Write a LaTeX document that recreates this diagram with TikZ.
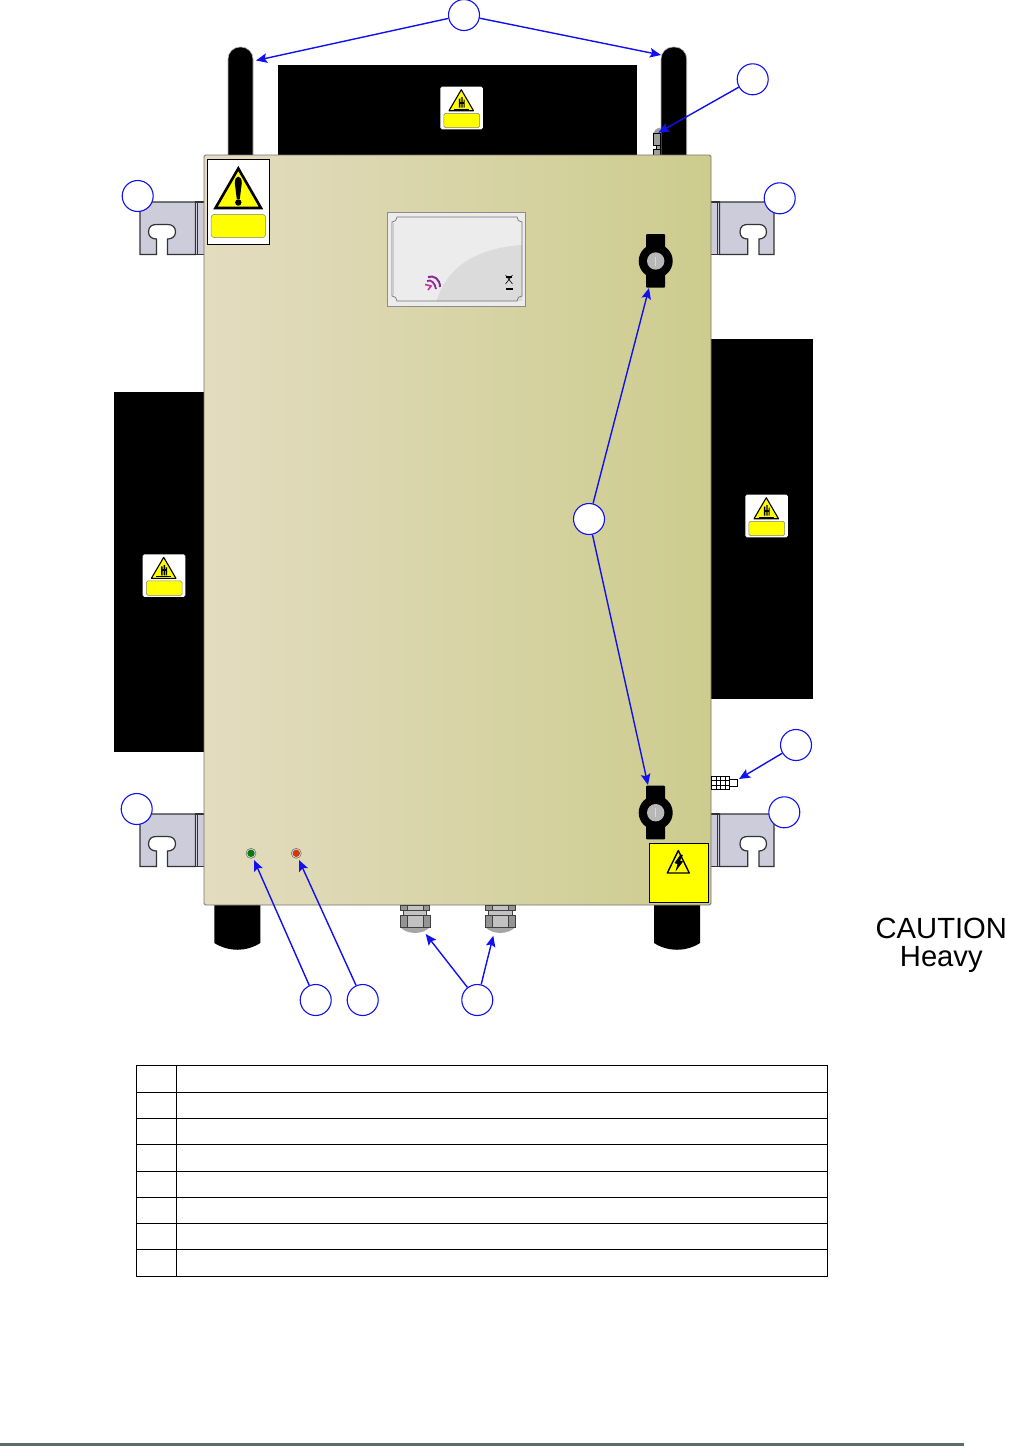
\documentclass[tikz,border=0pt]{standalone}
\usepackage{fontspec}
\setmainfont{Liberation Sans}
\usetikzlibrary{arrows.meta}
\definecolor{callblue}{HTML}{1010F0}
\definecolor{clampfill}{HTML}{CDCCDA}
\definecolor{signyellow}{HTML}{FFFF00}
\definecolor{panelL}{HTML}{E3DCC0}
\definecolor{panelR}{HTML}{CDCC8E}
\definecolor{footrule}{HTML}{5A6B6B}
\definecolor{ledred}{HTML}{D03A08}
\definecolor{ledgreen}{HTML}{0A7A0A}
\definecolor{logopurple}{HTML}{8A2C96}
\definecolor{logopink}{HTML}{C8329C}
\tikzset{
  callout/.style={circle,draw=callblue,fill=white,line width=1.1pt,minimum size=31pt,inner sep=0pt},
  leader/.style={draw=callblue,line width=1.4pt,-{Stealth[length=11pt,width=9.5pt,inset=2pt]}},
  blackpart/.style={fill=black,draw=black!30,line width=0.6pt},
  clampline/.style={draw=black!80,line width=1.2pt,fill=clampfill},
  tablerule/.style={draw=black,line width=0.9pt},
  gl/.style={fill=black!24,draw=black!75,line width=0.6pt},
  gd/.style={fill=black!42,draw=black!75,line width=0.6pt},
  fitpart/.style={fill=black!38,draw=black,line width=0.6pt},
  pics/clamp/.style={code={
    \path[clampline] (0,0)--(-9,0)--(-9,52.5)--(-37,52.5)--(-37,37)
      .. controls (-33,37) and (-29,35) .. (-29,30)
      .. controls (-29,25) and (-32,22.5) .. (-37,22.5)
      --(-48,22.5) .. controls (-52,22.5) and (-56,24) .. (-56,30)
      .. controls (-56,35) and (-52,37) .. (-48,37)
      --(-48,52.5)--(-64.5,52.5)--(-64.5,0)--cycle;
    \path[clampline] (-9,0) rectangle (-7,52.5);
    \path[clampline] (-7,0) rectangle (0.5,52.5);
  }},
  pics/clampr/.style={code={
    \path[clampline] (9,0)--(63.5,0)--(63.5,52.5)--(48.5,52.5)--(48.5,37)
      .. controls (52,37) and (56,35) .. (56,30)
      .. controls (56,25) and (53,22.5) .. (48.5,22.5)
      --(37.3,22.5) .. controls (33,22.5) and (29.5,24) .. (29.5,30)
      .. controls (29.5,35) and (33,37) .. (37.3,37)
      --(37.3,52.5)--(9,52.5)--cycle;
    \path[clampline] (-0.5,0) rectangle (7,52.5);
    \path[clampline] (7,0) rectangle (9,52.5);
  }},
  pics/hotsign/.style={code={
    \path[fill=white,rounded corners=1.5pt] (0,0) rectangle (42.6,42.6);
    \path[fill=signyellow,draw=black,line width=1.1pt,line join=round] (21,3) -- (33.2,24) -- (8.7,24) -- cycle;
    \path[fill=black] (18.5,12) rectangle (20,21) (21,10.5) rectangle (22.3,21) (23.2,13) rectangle (24.4,21);
    \path[fill=black] (19,15) rectangle (24,17);
    \path[fill=black] (13.5,21.8) rectangle (28.5,22.8);
    \path[fill=signyellow,draw=black!50,line width=0.5pt,rounded corners=1.5pt] (3.6,26.6) rectangle (39.3,41);
  }},
  pics/gland/.style={code={
    \path[gl] (-14.7,0) rectangle (14.7,5);
    \path[gd] (-14.7,0) rectangle (-8,5);
    \path[gd] (8,0) rectangle (14.7,5);
    \path[gl] (-11.7,5) rectangle (11.7,10);
    \path[fill=black!35] (-14.7,22) .. controls (-8,29.5) and (8,29.5) .. (14.7,22) -- cycle;
    \path[gl] (-15,10) rectangle (15,22);
    \path[gd] (-15,10) rectangle (-8,22);
    \path[gd] (8,10) rectangle (15,22);
  }},
  pics/lock/.style={code={
    \path[fill=black,rounded corners=1pt] (-9.7,-27) rectangle (9.5,26.7);
    \path[fill=black] (0,0) circle (17);
    \path[fill=black!28] (0,0) circle (8.7);
    \path[fill=white!85!black] (-0.5,-4.5) rectangle (0.5,4.5);
  }},
}
\begin{document}
\begin{tikzpicture}[x=1pt,y=-1pt]
\useasboundingbox (0,0) rectangle (1016,1446);
% black parts behind the panel
\path[blackpart,rounded corners=12pt] (228,200) -- (228,47) -- (253,47) -- (253,200) -- cycle;
\path[blackpart,rounded corners=12pt] (661,200) -- (661,47) -- (686.7,47) -- (686.7,200) -- cycle;
\path[fill=black] (278,65) rectangle (637,156);
\path[fill=black] (114,392) rectangle (205,752);
\path[fill=black] (710,339) rectangle (813,699);
\path[fill=black] (214.3,900) -- (260.3,900) -- (260.3,943) .. controls (246,952) and (229,952) .. (214.3,943) -- cycle;
\path[fill=black] (654,900) -- (700,900) -- (700,943) .. controls (686,952) and (668,952) .. (654,943) -- cycle;
% top fitting
\path[fill=black!38] (653.3,133) .. controls (654,130) and (657,128) .. (660.5,127.5) -- (660.5,133) -- cycle;
\path[fitpart] (653.5,133) rectangle (660,145.5);
\path[fitpart] (656,145.5) rectangle (660.5,149);
\path[fitpart] (653.5,149) rectangle (660,156);
% clamps
\pic at (204.5,202) {clamp};
\pic at (204.5,814) {clamp};
\pic at (710.5,202) {clampr};
\pic at (710.5,814) {clampr};
% panel
\path[left color=panelL,right color=panelR,draw=black!55,line width=0.8pt,rounded corners=1.5pt] (204,155) rectangle (711,905);
% hot-surface signs
\pic at (440.3,86.7) {hotsign};
\pic at (142.7,554.3) {hotsign};
\pic at (745.3,494.7) {hotsign};
% warning sign
\path[fill=white,draw=black,line width=0.9pt] (207.3,159.3) rectangle (269.7,244.3);
\path[fill=signyellow,draw=black,line width=2.6pt,line join=miter] (238.3,168.5) -- (261,208) -- (215.5,208) -- cycle;
\path[fill=black] (234.8,183) .. controls (234.8,174.5) and (241.8,174.5) .. (241.8,183) -- (239.8,199) -- (236.8,199) -- cycle;
\path[fill=black] (238.3,202.5) circle (3.2);
\path[fill=signyellow,draw=black!50,line width=0.5pt,rounded corners=3.5pt] (211,214.3) rectangle (265.7,237.7);
% nameplate
\path[fill=black!7.5,draw=black!45,line width=0.9pt] (387.3,212.3) rectangle (525.7,306);
\path[fill=black!14] (436.7,301) .. controls (446,268) and (476,248) .. (522,245) -- (522,301) -- cycle;
\path[draw=black!55,line width=0.7pt] (397,217) -- (517,217) .. controls (517,220) and (519,222) .. (522,222) -- (522,296) .. controls (519,296) and (517,298) .. (517,301) -- (397,301) .. controls (397,298) and (395,296) .. (392,296) -- (392,222) .. controls (395,222) and (397,220) .. (397,217) -- cycle;
\path[draw=black!20,line width=1.2pt] (393,223) -- (393,295);
% logo
\path[draw=logopurple,line width=2pt] (428,277) .. controls (434,275) and (440,279) .. (440,287);
\path[draw=logopurple,line width=1.8pt] (427,281) .. controls (431,279) and (435,283) .. (436,289);
\path[draw=logopink,line width=1.6pt] (425,284.5) -- (431,286) -- (428,290);
% bin icon
\path[draw=black,line width=0.6pt] (505.5,275) -- (512.5,284) (512.5,275) -- (505.5,284);
\path[fill=black] (506,275.5) rectangle (512,278);
\path[fill=black] (505.5,287.5) rectangle (513,289.5);
% locks
\pic at (655.7,261) {lock};
\pic at (655.7,812.7) {lock};
% power box
\path[fill=signyellow,draw=black,line width=0.9pt] (649.3,843.3) rectangle (708.7,902.7);
\path[fill=signyellow,draw=black,line width=1.4pt,line join=round] (678.3,850.5) -- (689.3,873) -- (667.3,873) -- cycle;
\path[fill=black] (680.5,854.5) -- (674.5,863) -- (677.5,864) -- (675.5,871.5) -- (683,861.5) -- (680,860.5) -- (683,855) -- cycle;
% LEDs
\path[fill=black!12,draw=black!55,line width=0.6pt] (251,853.3) circle (5);
\path[fill=ledgreen] (251,853.3) circle (3.7);
\path[fill=black!12,draw=black!55,line width=0.6pt] (296.3,853.3) circle (5);
\path[fill=ledred] (296.3,853.3) circle (3.7);
% glands
\pic at (415,905.3) {gland};
\pic at (500.3,905.3) {gland};
% side sensor
\path[fill=white,draw=black,line width=0.7pt] (729,779.3) rectangle (737.7,786);
\path[fill=white,draw=black,line width=0.7pt] (711.5,776) rectangle (729,789.3);
\path[draw=black,line width=0.5pt] (716,776) -- (716,789.3) (720,776) -- (720,789.3) (725,776) -- (725,789.3) (711.5,780) -- (729,780) (711.5,785) -- (729,785);
% targets
\coordinate (tAntL) at (256,60.5);
\coordinate (tAntR) at (661,55);
\coordinate (tFit) at (658.3,132.7);
\coordinate (tLockT) at (649,288);
\coordinate (tLockB) at (648,785);
\coordinate (tSens) at (739,779);
\coordinate (tLedG) at (254,860);
\coordinate (tLedR) at (299,860);
\coordinate (tGlandL) at (425.7,934);
\coordinate (tGlandR) at (493.3,935.7);
% callouts
\node[callout] (cTop) at (464,15) {};
\node[callout] (cFit) at (752.7,79.3) {};
\node[callout] (cClampTL) at (137.7,196) {};
\node[callout] (cClampTR) at (779.7,198.3) {};
\node[callout] (cLock) at (589,519) {};
\node[callout] (cSens) at (796,745) {};
\node[callout] (cClampBR) at (784.3,812.3) {};
\node[callout] (cClampBL) at (136.7,809) {};
\node[callout] (cLedG) at (315.7,1000) {};
\node[callout] (cLedR) at (362.7,1000) {};
\node[callout] (cGland) at (477.3,1000) {};
\draw[leader] (cTop) -- (tAntL);
\draw[leader] (cTop) -- (tAntR);
\draw[leader] (cFit) -- (tFit);
\draw[leader] (cLock) -- (tLockT);
\draw[leader] (cLock) -- (tLockB);
\draw[leader] (cSens) -- (tSens);
\draw[leader] (cLedG) -- (tLedG);
\draw[leader] (cLedR) -- (tLedR);
\draw[leader] (cGland) -- (tGlandL);
\draw[leader] (cGland) -- (tGlandR);
% caution text
\node[font=\fontsize{29.2}{29}\selectfont,align=center,inner sep=0pt] (caution) at (941.3,945) {CAUTION\\[-1pt]Heavy};
% table
\path[tablerule] (136.5,1065.5) rectangle (827.5,1276);
\path[tablerule] (176.5,1065.5) -- (176.5,1276);
\foreach \yy in {1092,1118,1144.5,1171,1197,1223,1249.5} \path[tablerule] (136.5,\yy) -- (827.5,\yy);
% footer rule
\path[fill=footrule] (0,1443) rectangle (964,1446);
\end{tikzpicture}
\end{document}
